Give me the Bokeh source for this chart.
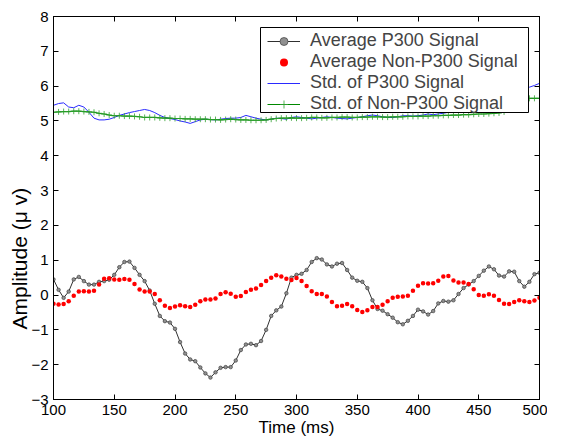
import numpy as np
from bokeh.plotting import figure
from bokeh.models import (Range1d, LinearAxis, SingleIntervalTicker, Legend, LegendItem,
                          BoxAnnotation, Title)
from bokeh.embed import file_html
from bokeh.resources import INLINE

# ---- data ----
time_ms = np.linspace(100, 500, 97)

avg_p300 = [0.45, 0.15, -0.08, 0.10, 0.45, 0.52, 0.40, 0.30, 0.30, 0.38,
            0.40, 0.44, 0.58, 0.80, 0.95, 0.96, 0.78, 0.58, 0.40, 0.13,
            -0.25, -0.60, -0.75, -0.79, -0.97, -1.35, -1.68, -1.85, -1.90, -2.08,
            -2.25, -2.37, -2.22, -2.09, -2.07, -2.07, -1.88, -1.58, -1.42, -1.40,
            -1.44, -1.32, -1.00, -0.60, -0.44, -0.33, 0.05, 0.50, 0.58, 0.61,
            0.72, 0.95, 1.06, 1.02, 0.88, 0.82, 0.90, 0.92, 0.72, 0.50,
            0.41, 0.38, 0.20, -0.15, -0.40, -0.45, -0.55, -0.65, -0.78, -0.84,
            -0.74, -0.60, -0.42, -0.47, -0.56, -0.46, -0.24, -0.17, -0.19, -0.15,
            0.03, 0.20, 0.30, 0.40, 0.55, 0.70, 0.82, 0.74, 0.56, 0.53,
            0.68, 0.67, 0.40, 0.24, 0.38, 0.60, 0.64]

avg_non_p300 = [-0.25, -0.27, -0.26, -0.18, -0.02, 0.10, 0.11, 0.10, 0.12, 0.30,
                0.47, 0.48, 0.45, 0.44, 0.46, 0.44, 0.32, 0.16, 0.10, 0.10,
                0.03, -0.15, -0.31, -0.37, -0.33, -0.29, -0.32, -0.34, -0.28, -0.18,
                -0.13, -0.13, -0.10, 0.03, 0.08, 0.04, -0.05, -0.03, 0.09, 0.15,
                0.19, 0.29, 0.40, 0.50, 0.57, 0.53, 0.47, 0.43, 0.49, 0.40,
                0.26, 0.11, 0.03, 0.03, -0.04, -0.20, -0.32, -0.31, -0.26, -0.32,
                -0.43, -0.49, -0.44, -0.34, -0.34, -0.28, -0.18, -0.08, -0.05, -0.04,
                -0.02, 0.12, 0.27, 0.34, 0.33, 0.34, 0.41, 0.53, 0.55, 0.42,
                0.36, 0.36, 0.32, 0.17, 0.00, -0.02, 0.02, -0.02, -0.14, -0.25,
                -0.26, -0.20, -0.15, -0.18, -0.20, -0.16, -0.08]

std_p300 = [5.45, 5.50, 5.52, 5.40, 5.38, 5.45, 5.40, 5.25, 5.08, 5.03,
            5.03, 5.05, 5.10, 5.16, 5.20, 5.24, 5.27, 5.30, 5.33, 5.30,
            5.24, 5.16, 5.10, 5.07, 5.04, 5.00, 4.97, 4.93, 4.98, 5.03,
            5.05, 5.04, 5.03, 5.05, 5.07, 5.08, 5.08, 5.10, 5.16, 5.12,
            5.08, 5.05, 5.03, 5.05, 5.08, 5.07, 5.05, 5.10, 5.12, 5.10,
            5.08, 5.06, 5.08, 5.10, 5.12, 5.10, 5.08, 5.07, 5.06, 5.08,
            5.10, 5.12, 5.15, 5.17, 5.15, 5.12, 5.10, 5.10, 5.12, 5.15,
            5.15, 5.14, 5.15, 5.17, 5.20, 5.18, 5.20, 5.22, 5.25, 5.30,
            5.35, 5.40, 5.45, 5.50, 5.55, 5.60, 5.65, 5.70, 5.75, 5.80,
            5.85, 5.88, 5.92, 5.95, 5.97, 6.02, 6.08]

std_non_p300 = [5.25, 5.26, 5.27, 5.27, 5.28, 5.28, 5.27, 5.26, 5.25, 5.22,
                5.20, 5.17, 5.15, 5.15, 5.14, 5.14, 5.13, 5.12, 5.10, 5.10,
                5.10, 5.09, 5.08, 5.08, 5.07, 5.07, 5.06, 5.06, 5.05, 5.05,
                5.05, 5.04, 5.04, 5.03, 5.04, 5.05, 5.04, 5.03, 5.03, 5.02,
                5.02, 5.02, 5.03, 5.05, 5.07, 5.08, 5.08, 5.09, 5.08, 5.08,
                5.09, 5.10, 5.10, 5.09, 5.09, 5.10, 5.10, 5.11, 5.11, 5.10,
                5.10, 5.11, 5.11, 5.12, 5.12, 5.11, 5.11, 5.12, 5.12, 5.12,
                5.13, 5.13, 5.13, 5.14, 5.14, 5.15, 5.15, 5.16, 5.16, 5.17,
                5.17, 5.18, 5.18, 5.19, 5.20, 5.20, 5.21, 5.22, 5.23, 5.26,
                5.32, 5.42, 5.55, 5.62, 5.65, 5.65, 5.65]

FONT = "Liberation Sans"

p = figure(width=547, height=439, output_backend="svg", toolbar_location=None,
           x_range=Range1d(100, 500), y_range=Range1d(-3, 8),
           min_border_left=53, min_border_right=8, min_border_top=16, min_border_bottom=0)
p.background_fill_color = "white"
p.border_fill_color = "white"
p.grid.visible = False
p.outline_line_color = "black"
p.outline_line_width = 1

p.xaxis.ticker = SingleIntervalTicker(interval=50)
p.yaxis.ticker = SingleIntervalTicker(interval=1)
for ax in (p.xaxis[0], p.yaxis[0]):
    ax.major_tick_in = 5
    ax.major_tick_out = 0
    ax.minor_tick_line_color = None
    ax.axis_line_color = "black"
    ax.major_tick_line_color = "black"
    ax.major_label_text_font = FONT
    ax.major_label_text_font_size = "15px"
    ax.major_label_text_color = "black"
    ax.axis_label_text_font = FONT
    ax.axis_label_text_font_style = "normal"
    ax.axis_label_text_color = "black"
p.xaxis.axis_label = "Time (ms)"
p.xaxis.axis_label_text_font_size = "17px"
p.xaxis.major_label_standoff = 1
p.xaxis.axis_label_standoff = 0
p.yaxis.major_label_standoff = 1

# y-axis title: as in the reference it sits a little below the axis centre
p.add_layout(Title(text="Amplitude (\u03bc v)", align="left", offset=70, standoff=-5,
                   text_font=FONT, text_font_size="21px", text_font_style="normal",
                   text_color="black"), "left")

for loc, interval in (("above", 50), ("right", 1)):
    ax = LinearAxis(ticker=SingleIntervalTicker(interval=interval))
    ax.major_tick_in = 5
    ax.major_tick_out = 0
    ax.minor_tick_line_color = None
    ax.major_label_text_font_size = "0px"
    ax.major_label_standoff = 0
    p.add_layout(ax, loc)

# series
r_std_p = p.line(time_ms, std_p300, line_color="#2a2aff", line_width=1)
r_std_n_line = p.line(time_ms, std_non_p300, line_color="#008800", line_width=1.2)
r_std_n_mark = p.scatter(time_ms, std_non_p300, marker="cross", size=6,
                         line_color="#30a030", line_width=1, line_alpha=0.8)
r_p_line = p.line(time_ms, avg_p300, line_color="#303030", line_width=1)
r_p_mark = p.scatter(time_ms, avg_p300, marker="circle", size=3.5,
                     fill_color="#909090", line_color="#404040", line_width=0.7)
r_n = p.scatter(time_ms, avg_non_p300, marker="circle", size=4.5,
                fill_color="red", line_color="red", line_width=0)

# legend frame (wider than Bokeh's auto-sized box, as in the reference)
p.add_layout(BoxAnnotation(left=207, right=475, bottom=287, top=372,
                           left_units="screen", right_units="screen",
                           bottom_units="screen", top_units="screen",
                           fill_color="white", fill_alpha=1,
                           line_color="black", line_width=1, line_alpha=1))

legend = Legend(items=[
    LegendItem(label="Average P300 Signal", renderers=[r_p_line, r_p_mark]),
    LegendItem(label="Average Non-P300 Signal", renderers=[r_n]),
    LegendItem(label="Std. of P300 Signal", renderers=[r_std_p]),
    LegendItem(label="Std. of Non-P300 Signal", renderers=[r_std_n_line, r_std_n_mark]),
], location=(214, 285))
legend.label_text_font = FONT
legend.label_text_font_size = "18px"
legend.label_height = 20
legend.glyph_height = 20
legend.glyph_width = 33
legend.label_standoff = 10
legend.spacing = 0
legend.padding = 3
legend.margin = 0
legend.border_line_color = None
legend.background_fill_alpha = 0
p.add_layout(legend, "center")

open("out.html", "w").write(file_html(p, INLINE))
